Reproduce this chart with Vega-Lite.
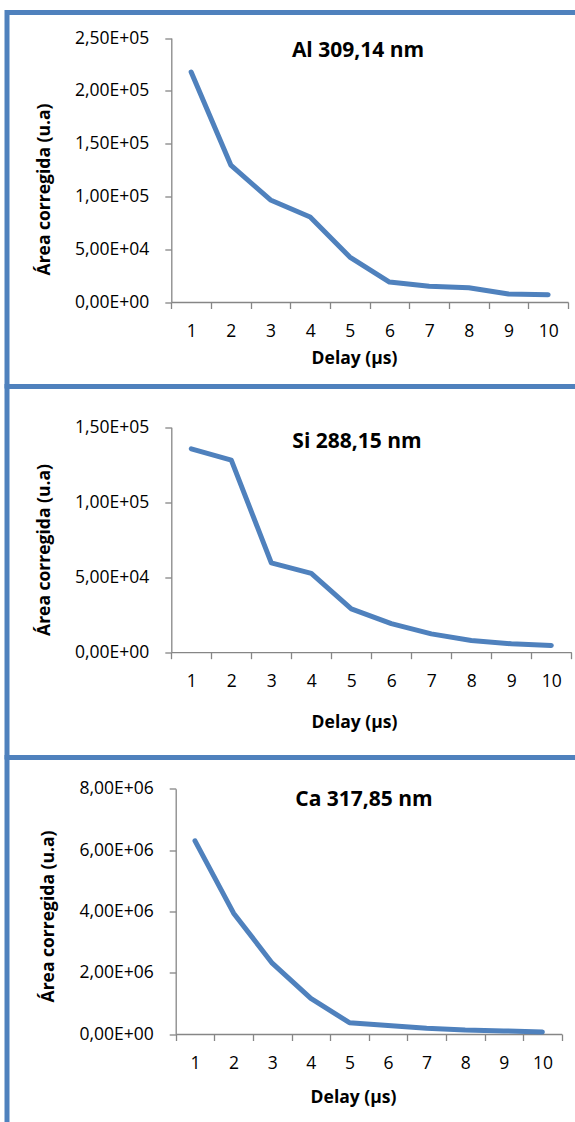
{
  "$schema": "https://vega.github.io/schema/vega-lite/v6.json",
  "padding": {"left": 3, "top": 8.5, "right": 0, "bottom": 0},
  "background": "white",
  "spacing": 0,
  "bounds": "flush",
  "datasets": {
    "al": [
      {"delay": 1, "area": 217800}, {"delay": 2, "area": 129700}, {"delay": 3, "area": 96600},
      {"delay": 4, "area": 80500}, {"delay": 5, "area": 42600}, {"delay": 6, "area": 18900},
      {"delay": 7, "area": 14900}, {"delay": 8, "area": 13500}, {"delay": 9, "area": 7600},
      {"delay": 10, "area": 6900}
    ],
    "si": [
      {"delay": 1, "area": 135600}, {"delay": 2, "area": 128000}, {"delay": 3, "area": 59600},
      {"delay": 4, "area": 52500}, {"delay": 5, "area": 28900}, {"delay": 6, "area": 19100},
      {"delay": 7, "area": 12200}, {"delay": 8, "area": 7800}, {"delay": 9, "area": 5600},
      {"delay": 10, "area": 4500}
    ],
    "ca": [
      {"delay": 1, "area": 6300000}, {"delay": 2, "area": 3940000}, {"delay": 3, "area": 2310000},
      {"delay": 4, "area": 1160000}, {"delay": 5, "area": 370000}, {"delay": 6, "area": 280000},
      {"delay": 7, "area": 190000}, {"delay": 8, "area": 130000}, {"delay": 9, "area": 100000},
      {"delay": 10, "area": 65000}
    ]
  },
  "config": {
    "font": "Open Sans",
    "axis": {
      "domainColor": "#868686", "tickColor": "#868686", "domainWidth": 1.3, "tickWidth": 1.3,
      "tickSize": 6.5, "labelFont": "Open Sans", "labelFontSize": 17.5, "labelColor": "#000000",
      "titleFont": "Open Sans", "titleFontSize": 17.5, "titleFontWeight": "bold", "titleColor": "#000000",
      "grid": false
    },
    "axisX": {"labelPadding": 13.7, "labelAngle": 0, "tickBand": "extent"},
    "axisY": {"labelPadding": 16, "titlePadding": 21},
    "title": {"font": "Open Sans", "fontSize": 21, "fontWeight": "bold", "color": "#000000"}
  },
  "vconcat": [
    {
      "width": 567, "height": 373.5,
      "view": {"stroke": "#4F81BD", "strokeWidth": 5, "strokeDash": [567, 940.5, 373.5, 0], "strokeCap": "square", "fill": "white"},
      "title": {"text": "Al 309,14 nm", "anchor": "middle", "frame": "group", "dx": 67.5, "dy": 65.3, "offset": 0, "baseline": "alphabetic"},
      "data": {"name": "al"},
      "mark": {"type": "line", "color": "#4F81BD", "strokeWidth": 5, "strokeCap": "round", "strokeJoin": "round"},
      "encoding": {
        "x": {
          "field": "delay", "type": "ordinal", "bandPosition": 0.5,
          "scale": {"type": "band", "range": [164.3, 561], "paddingInner": 0, "paddingOuter": 0},
          "axis": {"title": "Delay (µs)", "offset": -84, "titleX": 347, "titleY": 61.3, "titleBaseline": "alphabetic"}
        },
        "y": {
          "field": "area", "type": "quantitative",
          "scale": {"domain": [0, 250000], "range": [289.5, 25.5], "nice": false},
          "axis": {
            "title": "Área corregida (u.a)", "offset": -164.3, "titleY": 176.5,
            "values": [0, 50000, 100000, 150000, 200000, 250000],
            "labelExpr": "datum.value == 0 ? '0,00E+00' : replace(format(datum.value / pow(10, floor(log(datum.value) / LN10 + 1e-9)), '.2f'), '.', ',') + 'E+' + (floor(log(datum.value) / LN10 + 1e-9) < 10 ? '0' : '') + floor(log(datum.value) / LN10 + 1e-9)"
          }
        }
      }
    },
    {
      "width": 567, "height": 370.5,
      "view": {"stroke": "#4F81BD", "strokeWidth": 5, "strokeDash": [567, 937.5, 370.5, 0], "strokeCap": "square", "fill": "white"},
      "title": {"text": "Si 288,15 nm", "anchor": "middle", "frame": "group", "dx": 66.5, "dy": 82, "offset": 0, "baseline": "alphabetic"},
      "data": {"name": "si"},
      "mark": {"type": "line", "color": "#4F81BD", "strokeWidth": 5, "strokeCap": "round", "strokeJoin": "round"},
      "encoding": {
        "x": {
          "field": "delay", "type": "ordinal", "bandPosition": 0.5,
          "scale": {"type": "band", "range": [164.3, 564.3], "paddingInner": 0, "paddingOuter": 0},
          "axis": {"title": "Delay (µs)", "offset": -104.8, "titleX": 347, "titleY": 75, "titleBaseline": "alphabetic"}
        },
        "y": {
          "field": "area", "type": "quantitative",
          "scale": {"domain": [0, 150000], "range": [265.7, 40.7], "nice": false},
          "axis": {
            "title": "Área corregida (u.a)", "offset": -164.3, "titleY": 163,
            "values": [0, 50000, 100000, 150000],
            "labelExpr": "datum.value == 0 ? '0,00E+00' : replace(format(datum.value / pow(10, floor(log(datum.value) / LN10 + 1e-9)), '.2f'), '.', ',') + 'E+' + (floor(log(datum.value) / LN10 + 1e-9) < 10 ? '0' : '') + floor(log(datum.value) / LN10 + 1e-9)"
          }
        }
      }
    },
    {
      "width": 567, "height": 364.5,
      "view": {"stroke": "#4F81BD", "strokeWidth": 5, "strokeDash": [567, 931.5, 364.5, 0], "strokeCap": "square", "fill": "white"},
      "title": {"text": "Ca 317,85 nm", "anchor": "middle", "frame": "group", "dx": 73.5, "dy": 69.5, "offset": 0, "baseline": "alphabetic"},
      "data": {"name": "ca"},
      "mark": {"type": "line", "color": "#4F81BD", "strokeWidth": 5, "strokeCap": "round", "strokeJoin": "round"},
      "encoding": {
        "x": {
          "field": "delay", "type": "ordinal", "bandPosition": 0.5,
          "scale": {"type": "band", "range": [168.7, 554.7], "paddingInner": 0, "paddingOuter": 0},
          "axis": {"title": "Delay (µs)", "offset": -88, "titleX": 346, "titleY": 68.3, "titleBaseline": "alphabetic"}
        },
        "y": {
          "field": "area", "type": "quantitative",
          "scale": {"domain": [0, 8000000], "range": [276.5, 31.2], "nice": false},
          "axis": {
            "title": "Área corregida (u.a)", "offset": -168.7, "titleY": 158.5,
            "values": [0, 2000000, 4000000, 6000000, 8000000],
            "labelExpr": "datum.value == 0 ? '0,00E+00' : replace(format(datum.value / pow(10, floor(log(datum.value) / LN10 + 1e-9)), '.2f'), '.', ',') + 'E+' + (floor(log(datum.value) / LN10 + 1e-9) < 10 ? '0' : '') + floor(log(datum.value) / LN10 + 1e-9)"
          }
        }
      }
    }
  ]
}
